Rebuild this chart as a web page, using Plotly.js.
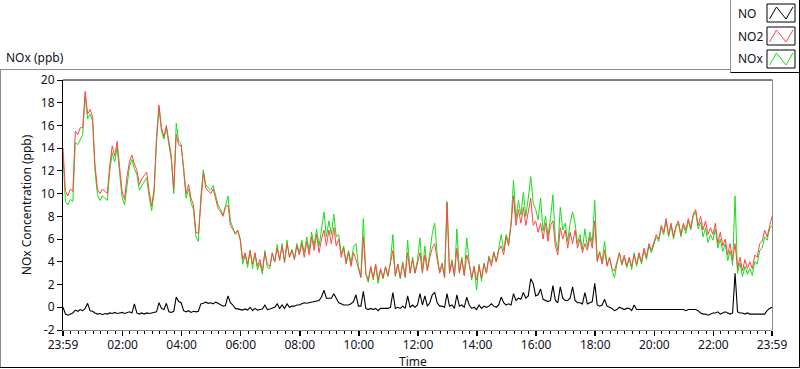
<!DOCTYPE html>
<html>
<head>
<meta charset="utf-8">
<script src="https://cdn.plot.ly/plotly-3.0.1.min.js"></script>
<style>
  html, body { margin: 0; padding: 0; background: #fff; }
  #chart { width: 800px; height: 369px; }
</style>
</head>
<body>
<div id="chart"></div>
<script>
// ---- data (5-minute samples, first sample at 23:59 of previous day) ----
const startMinute = -1;
const stepMinutes = 5;

const NO2 = [
  14.0, 10.2, 9.8, 10.4, 10.2, 15.5, 15.2, 15.8, 15.8, 19.0, 17.0, 17.4,
  16.8, 12.5, 10.4, 10.0, 10.4, 10.2, 10.0, 12.5, 14.2, 13.3, 14.6, 12.3,
  10.2, 9.5, 11.5, 12.8, 13.4, 12.6, 12.1, 10.8, 11.3, 11.6, 11.9, 10.2,
  8.9, 10.4, 15.0, 17.8, 15.8, 15.0, 16.0, 14.6, 13.3, 10.4, 15.2, 14.3,
  14.2, 12.3, 10.0, 10.8, 9.6, 9.0, 6.6, 6.5, 9.5, 11.8, 10.5, 10.2,
  10.0, 10.4, 9.6, 8.7, 8.4, 8.0, 8.8, 9.0, 7.2, 6.8, 6.5, 6.8,
  6.0, 4.2, 4.8, 3.8, 5.0, 3.8, 4.8, 3.6, 4.2, 3.2, 4.8, 3.8,
  3.6, 4.8, 4.0, 5.2, 4.2, 5.4, 4.0, 5.6, 4.4, 5.0, 4.2, 5.4,
  4.6, 5.6, 4.4, 5.8, 4.6, 6.2, 5.0, 6.4, 4.8, 6.0, 6.8, 5.4,
  6.8, 5.6, 7.0, 5.4, 6.0, 4.4, 5.2, 3.8, 4.8, 3.6, 4.8, 4.2,
  3.4, 2.6, 6.2, 3.0, 2.4, 3.6, 2.6, 3.8, 2.4, 3.4, 2.6, 3.6,
  2.8, 4.0, 5.0, 2.8, 3.8, 2.6, 3.9, 2.7, 4.8, 3.0, 4.2, 3.0,
  4.0, 4.8, 3.0, 4.6, 3.2, 4.4, 5.2, 5.6, 4.2, 3.0, 3.8, 2.6,
  9.2, 3.0, 4.0, 2.8, 5.2, 3.0, 4.2, 2.8, 4.6, 3.8, 2.6, 3.6,
  2.4, 3.6, 2.6, 3.8, 3.0, 4.4, 3.6, 4.8, 4.0, 5.0, 5.4, 4.6,
  6.2, 5.4, 7.2, 9.8, 7.2, 8.6, 7.4, 8.8, 7.2, 8.6, 9.6, 7.2,
  7.6, 6.6, 7.4, 6.0, 7.4, 5.8, 7.2, 7.6, 5.4, 4.6, 7.0, 6.0,
  6.8, 5.2, 6.6, 5.6, 6.8, 5.2, 6.0, 4.8, 5.6, 5.0, 6.2, 5.2,
  7.6, 4.0, 4.8, 3.8, 5.0, 3.6, 4.4, 3.4, 3.2, 4.0, 4.8, 3.8,
  4.6, 3.6, 4.4, 3.6, 4.6, 3.8, 4.8, 4.0, 5.2, 4.4, 5.6, 5.0,
  5.8, 6.4, 6.0, 7.2, 6.6, 7.8, 6.4, 7.4, 6.2, 7.2, 7.6, 6.4,
  7.4, 6.8, 7.8, 7.0, 8.2, 8.6, 7.2, 8.0, 6.8, 7.6, 6.4, 7.0,
  6.4, 7.4, 5.6, 6.6, 5.4, 6.0, 4.6, 5.6, 4.2, 5.6, 3.4, 4.4,
  3.2, 4.2, 3.4, 4.0, 3.4, 4.6, 4.4, 5.6, 5.8, 6.8, 6.2, 7.0, 8.0
];

const NOx = [
  13.3, 9.3, 9.0, 9.5, 9.3, 14.5, 14.3, 14.8, 15.2, 18.6, 16.6, 17.0,
  16.4, 12.0, 9.9, 9.4, 9.8, 9.6, 9.4, 12.0, 13.6, 12.8, 14.1, 11.8,
  9.7, 9.0, 11.0, 12.4, 13.0, 12.2, 11.7, 10.3, 10.7, 11.1, 11.4, 9.7,
  8.5, 10.0, 14.6, 17.6, 15.5, 14.8, 15.8, 14.3, 13.0, 10.0, 16.2, 14.6,
  14.4, 12.0, 9.6, 10.4, 9.2, 8.6, 6.2, 5.8, 9.8, 12.1, 10.8, 10.5,
  10.3, 10.7, 9.9, 9.0, 8.6, 8.1, 8.9, 9.8, 7.6, 7.0, 6.4, 6.7,
  5.9, 3.8, 4.6, 3.5, 5.0, 3.4, 4.7, 3.3, 3.9, 2.9, 5.0, 3.5,
  3.4, 4.7, 4.0, 5.5, 4.1, 5.6, 3.9, 5.9, 4.4, 5.1, 4.3, 5.6,
  4.8, 5.9, 4.8, 6.2, 5.0, 6.6, 5.4, 6.9, 5.4, 6.8, 8.4, 6.2,
  7.6, 6.4, 8.2, 6.2, 6.4, 4.7, 5.4, 4.0, 5.0, 3.9, 5.3, 5.6,
  3.6, 2.7, 7.8, 2.9, 2.2, 3.5, 2.4, 3.7, 2.1, 3.3, 2.5, 3.5,
  2.7, 4.0, 6.4, 2.7, 3.8, 2.5, 4.0, 2.6, 5.9, 3.0, 4.4, 3.0,
  4.2, 6.1, 3.2, 5.4, 3.3, 4.8, 6.5, 7.4, 4.6, 3.1, 3.9, 2.6,
  9.3, 3.1, 4.2, 2.7, 6.9, 3.1, 4.4, 2.8, 6.1, 4.0, 2.4, 3.6,
  1.5, 3.8, 2.3, 3.9, 3.0, 4.5, 3.9, 4.9, 4.0, 5.2, 6.4, 5.0,
  6.4, 5.7, 7.4, 11.2, 7.8, 9.4, 8.1, 10.1, 8.0, 9.6, 11.5, 9.2,
  8.6, 7.7, 9.6, 6.7, 8.0, 6.3, 7.8, 9.9, 6.0, 5.0, 8.8, 6.8,
  7.4, 5.8, 7.4, 8.4, 7.4, 5.6, 6.4, 5.1, 6.9, 5.3, 6.6, 5.7,
  9.4, 4.2, 4.9, 4.0, 5.8, 3.7, 4.4, 3.3, 2.6, 3.8, 4.8, 3.7,
  4.4, 3.5, 4.3, 3.3, 4.8, 3.6, 4.6, 3.8, 5.0, 4.2, 5.4, 4.8,
  5.6, 6.2, 5.8, 7.0, 6.4, 7.6, 6.2, 7.2, 6.0, 7.0, 7.4, 6.2,
  7.2, 6.5, 7.6, 6.8, 8.0, 8.4, 6.9, 7.5, 6.2, 7.0, 5.7, 6.4,
  5.9, 6.9, 5.2, 6.0, 4.9, 5.6, 4.1, 5.0, 3.7, 9.8, 3.0, 3.9,
  2.7, 3.6, 2.9, 3.4, 2.8, 4.0, 3.8, 5.0, 5.2, 6.2, 5.9, 6.9, 7.2
];

const NO = [
  0.0, -0.6, -0.7, -0.6, -0.5, -0.25, -0.35, -0.2, -0.3, -0.1, 0.35, -0.3,
  -0.35, -0.5, -0.6, -0.55, -0.65, -0.55, -0.6, -0.5, -0.55, -0.45, -0.55, -0.5,
  -0.45, -0.55, -0.45, -0.4, -0.5, 0.3, -0.5, -0.6, -0.5, -0.6, -0.5, -0.55,
  -0.5, -0.45, -0.4, 0.4, -0.1, -0.2, 0.35, -0.4, -0.45, -0.35, 0.9, 0.5,
  0.4, -0.3, -0.4, -0.3, -0.45, -0.35, -0.4, -0.35, 0.3, 0.35, 0.45, 0.35,
  0.4, 0.3, 0.45, 0.35, 0.2, 0.1, 0.15, 1.0, 0.4, 0.2, -0.1, -0.15,
  -0.15, -0.25, -0.15, -0.25, 0.0, -0.3, -0.1, -0.25, -0.2, -0.15, 0.2, -0.2,
  -0.15, -0.1, 0.0, 0.3, -0.1, 0.2, -0.1, 0.3, 0.0, 0.1, 0.1, 0.2,
  0.2, 0.3, 0.4, 0.35, 0.4, 0.4, 0.45, 0.5, 0.6, 0.9, 1.5, 0.8,
  0.8, 0.8, 1.2, 0.8, 0.4, 0.3, 0.2, 0.2, 0.2, 0.3, 0.5, 1.1,
  0.1, 0.1, 1.4, -0.1, -0.2, -0.1, -0.2, -0.1, -0.3, -0.1, -0.1, -0.1,
  -0.1, 0.0, 1.3, -0.1, 0.0, -0.1, 0.1, -0.1, 1.0, 0.0, 0.2, 0.0,
  0.2, 1.2, 0.2, 1.0, 0.1, 0.4, 1.1, 1.3, 0.4, 0.1, 0.1, 0.0,
  1.2, 0.1, 0.2, -0.1, 1.1, 0.1, 0.2, 0.0, 0.9, 0.2, -0.1, 0.0,
  -0.2, 0.2, -0.1, 0.1, 0.0, 0.1, 0.3, 0.1, 0.0, 0.2, 0.9, 0.4,
  0.2, 0.3, 0.2, 1.2, 0.6, 0.8, 0.7, 1.3, 0.8, 1.0, 2.5, 2.1,
  1.0, 1.1, 1.6, 0.7, 0.6, 0.5, 0.6, 1.9, 0.6, 0.4, 1.8, 0.8,
  0.6, 0.6, 0.8, 1.8, 0.6, 0.4, 0.4, 0.3, 1.3, 0.3, 0.4, 0.5,
  2.1, 0.2, 0.1, 0.2, 0.7, 0.1, 0.0, -0.1, -0.3, -0.2, 0.0, -0.1,
  -0.2, -0.1, -0.1, -0.3, 0.2, -0.2, -0.2, -0.2, -0.2, -0.2, -0.2, -0.2,
  -0.2, -0.2, -0.2, -0.2, -0.2, -0.2, -0.2, -0.2, -0.2, -0.2, -0.2, -0.2,
  -0.2, -0.3, -0.2, -0.2, -0.2, -0.2, -0.3, -0.5, -0.6, -0.6, -0.7, -0.6,
  -0.5, -0.5, -0.4, -0.6, -0.5, -0.4, -0.5, -0.6, -0.5, 3.0, -0.4, -0.5,
  -0.5, -0.6, -0.5, -0.6, -0.6, -0.6, -0.6, -0.6, -0.6, -0.6, -0.3, -0.1, 0.0
];

const xTickVals = [-1, 120, 240, 360, 480, 600, 720, 840, 960, 1080, 1200, 1320, 1439];
const xTickText = ['23:59', '02:00', '04:00', '06:00', '08:00', '10:00', '12:00',
                   '14:00', '16:00', '18:00', '20:00', '22:00', '23:59'];
const yTickVals = [-2, 0, 2, 4, 6, 8, 10, 12, 14, 16, 18, 20];
const yTickText = ['-2', '0', '2', '4', '6', '8', '10', '12', '14', '16', '18', '20'];
const seriesNames = ['NO', 'NO2', 'NOx'];
const seriesColors = ['#000000', '#ff4646', '#16e016'];

// ---- build ----
const times = NO2.map((_, i) => startMinute + stepMinutes * i);

// pixel geometry of the plot area
const W = 800, H = 369;
const PL = 63, PR = 772, PT = 80, PB = 330;
const px = x => (x - PL) / (PR - PL);
const py = y => (PB - y) / (PB - PT);

const traces = [
  { x: times, y: NOx, name: seriesNames[2], mode: 'lines', line: { color: seriesColors[2], width: 1 } },
  { x: times, y: NO2, name: seriesNames[1], mode: 'lines', line: { color: seriesColors[1], width: 1 } },
  { x: times, y: NO,  name: seriesNames[0], mode: 'lines', line: { color: seriesColors[0], width: 1.1 } }
];

const FONT = 'Noto Sans, Open Sans, sans-serif';
const TXT = '#111122';

function line(x0, y0, x1, y1, color) {
  return { type: 'line', xref: 'paper', yref: 'paper', x0: px(x0), y0: py(y0), x1: px(x1), y1: py(y1),
           line: { color: color, width: 1 }, layer: 'above' };
}

const shapes = [
  // outer frame
  line(0, 69.5, 730.5, 69.5, '#8c8c8c'),
  line(0.5, 69.5, 0.5, 367.5, '#8c8c8c'),
  line(0, 367.5, 799.5, 367.5, '#000'),
  line(799.5, 72.5, 799.5, 367.5, '#000'),
  // legend box
  line(730.5, 0, 730.5, 72.5, '#8c8c8c'),
  line(730.5, 72.5, 799.5, 72.5, '#000'),
  line(799.5, 0, 799.5, 72.5, '#000'),
  // plot frame: top black, right gray
  line(63, 80, 772.5, 80, '#000'),
  line(772.5, 80, 772.5, 330, '#8c8c8c')
];

const annotations = [
  { text: 'NOx (ppb)', xref: 'paper', yref: 'paper', x: px(4), y: py(58), xanchor: 'left', yanchor: 'middle',
    showarrow: false, font: { family: FONT, size: 12, color: TXT } },
  { text: 'Time', xref: 'paper', yref: 'paper', x: px(413), y: py(361.5), xanchor: 'center', yanchor: 'middle',
    showarrow: false, borderpad: 0, font: { family: FONT, size: 12, color: TXT } }
];

// legend drawn as in the reference: text, then a framed sample
const legendRows = [13, 36, 59];
legendRows.forEach((cy, i) => {
  annotations.push({ text: seriesNames[i], xref: 'paper', yref: 'paper', x: px(736), y: py(cy),
    xanchor: 'left', yanchor: 'middle', showarrow: false, font: { family: FONT, size: 12, color: TXT } });
  const bx0 = 767, bx1 = 795, by0 = cy - 9, by1 = cy + 9;
  shapes.push({ type: 'rect', xref: 'paper', yref: 'paper', x0: px(bx0), x1: px(bx1), y0: py(by0), y1: py(by1),
    line: { color: '#000', width: 1 }, fillcolor: '#fff', layer: 'above' });
  const pts = [[bx0 + 2.5, by1 - 3], [bx0 + 9.5, by0 + 3], [bx0 + 19, by1 - 3], [bx1 - 2, by0 + 3]];
  const path = 'M ' + pts.map(p => px(p[0]) + ',' + py(p[1])).join(' L ');
  shapes.push({ type: 'path', xref: 'paper', yref: 'paper', path: path,
    line: { color: seriesColors[i], width: 1 }, layer: 'above' });
});

const layout = {
  width: W, height: H,
  margin: { l: PL, r: W - PR, t: PT, b: H - PB, pad: 0 },
  paper_bgcolor: '#fff', plot_bgcolor: '#fff',
  showlegend: false,
  font: { family: FONT, size: 12, color: TXT },
  xaxis: {
    range: [-1, 1439], tickmode: 'array', tickvals: xTickVals, ticktext: xTickText,
    showgrid: false, zeroline: false, showline: true, linecolor: '#8c8c8c', linewidth: 1,
    ticks: 'outside', ticklen: 5, tickcolor: '#000', tickwidth: 1.5, ticklabelstandoff: -1,
    tickfont: { family: FONT, size: 12, color: TXT },
    minor: { tickmode: 'linear', tick0: 0, dtick: 15, ticks: 'outside', ticklen: 3, tickcolor: '#000', tickwidth: 1 },
    fixedrange: true
  },
  yaxis: {
    range: [-2, 20], tickmode: 'array', tickvals: yTickVals, ticktext: yTickText,
    showgrid: false, zeroline: false, showline: true, linecolor: '#000', linewidth: 1,
    ticks: 'outside', ticklen: 5, tickcolor: '#000',
    tickfont: { family: FONT, size: 12, color: TXT },
    title: { text: 'NOx Concentration (ppb)', font: { family: FONT, size: 12, color: TXT }, standoff: 6 },
    fixedrange: true
  },
  shapes: shapes,
  annotations: annotations
};

Plotly.newPlot('chart', traces, layout, { staticPlot: true, displayModeBar: false });
</script>
</body>
</html>
